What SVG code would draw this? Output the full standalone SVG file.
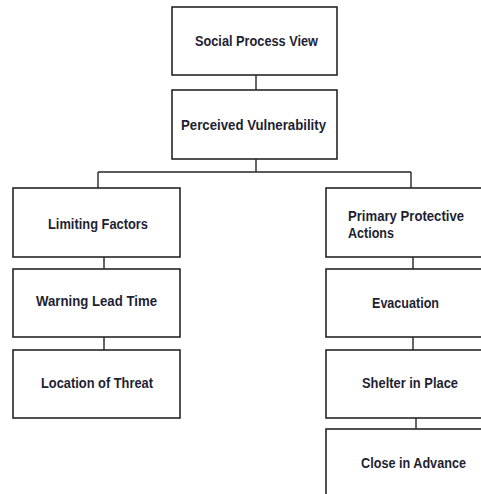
<svg xmlns="http://www.w3.org/2000/svg" width="481" height="494" viewBox="0 0 481 494">
  <style>
    .box { fill: #ffffff; stroke: #262626; stroke-width: 1.6; }
    .link { fill: none; stroke: #262626; stroke-width: 1.4; }
    .label { font-family: "Liberation Sans", Arial, sans-serif; font-weight: bold; font-size: 14px; fill: #1f1f33; }
  </style>
  <rect x="0" y="0" width="481" height="494" fill="#ffffff"/>

  <g id="connectors">
    <path class="link" d="M256 75 V90"/>
    <path class="link" d="M256 159 V172 M98 172 H411 M98 172 V188 M411 172 V188"/>
    <path class="link" d="M104 257 V269 M104 337 V350"/>
    <path class="link" d="M413 257 V269 M413 337 V350 M416 418 V429"/>
  </g>

  <g id="social-process-view">
    <rect class="box" x="172" y="7" width="165" height="68"/>
    <text class="label" x="195" y="46" textLength="123" lengthAdjust="spacingAndGlyphs">Social Process View</text>
  </g>
  <g id="perceived-vulnerability">
    <rect class="box" x="172" y="90" width="165" height="69"/>
    <text class="label" x="181" y="130" textLength="145" lengthAdjust="spacingAndGlyphs">Perceived Vulnerability</text>
  </g>

  <g id="limiting-factors">
    <rect class="box" x="13" y="188" width="167" height="69"/>
    <text class="label" x="48" y="229" textLength="100" lengthAdjust="spacingAndGlyphs">Limiting Factors</text>
  </g>
  <g id="warning-lead-time">
    <rect class="box" x="13" y="269" width="167" height="68"/>
    <text class="label" x="36" y="306" textLength="121" lengthAdjust="spacingAndGlyphs">Warning Lead Time</text>
  </g>
  <g id="location-of-threat">
    <rect class="box" x="13" y="350" width="167" height="68"/>
    <text class="label" x="41" y="388" textLength="112" lengthAdjust="spacingAndGlyphs">Location of Threat</text>
  </g>

  <g id="primary-protective-actions">
    <rect class="box" x="326" y="188" width="160" height="69"/>
    <text class="label" x="348" y="221" textLength="116" lengthAdjust="spacingAndGlyphs">Primary Protective</text>
    <text class="label" x="348" y="238" textLength="46" lengthAdjust="spacingAndGlyphs">Actions</text>
  </g>
  <g id="evacuation">
    <rect class="box" x="326" y="269" width="160" height="68"/>
    <text class="label" x="372" y="308" textLength="67" lengthAdjust="spacingAndGlyphs">Evacuation</text>
  </g>
  <g id="shelter-in-place">
    <rect class="box" x="326" y="350" width="160" height="68"/>
    <text class="label" x="362" y="388" textLength="96" lengthAdjust="spacingAndGlyphs">Shelter in Place</text>
  </g>
  <g id="close-in-advance">
    <rect class="box" x="326" y="429" width="160" height="80"/>
    <text class="label" x="361" y="468" textLength="105" lengthAdjust="spacingAndGlyphs">Close in Advance</text>
  </g>
</svg>
